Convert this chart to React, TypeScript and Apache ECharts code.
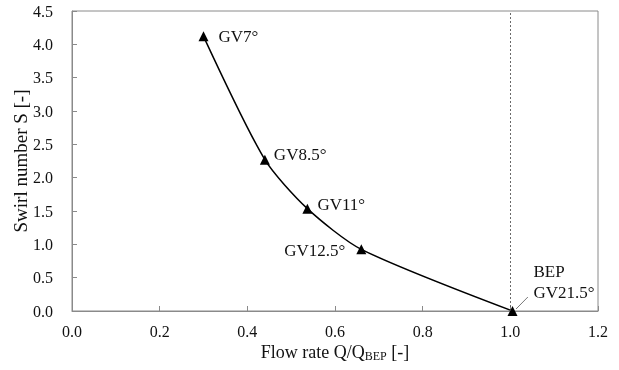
import React, { useEffect, useRef } from "react";
import * as echarts from "echarts";

const flowRate = [0.3, 0.44, 0.537, 0.66, 1.005];
const swirl = [4.12, 2.27, 1.535, 0.925, 0.0];
const pointLabels = ["GV7°", "GV8.5°", "GV11°", "GV12.5°", "BEP\nGV21.5°"];
const xTicks = { min: 0, max: 1.2, interval: 0.2 };
const yTicks = { min: 0, max: 4.5, interval: 0.5 };
const bepLine = 1.005;

const FONT = "Liberation Serif";

const labelLayouts: any[] = [
  { position: "right", distance: 5, offset: [5, 0] },
  { position: "right", distance: 4, offset: [0, -5] },
  { position: "right", distance: 4, offset: [1, -4] },
  { position: "left", distance: 6, offset: [-5, 1] },
  { position: "right", distance: 5, offset: [11, -29], lineHeight: 21 },
];

export default function App() {
  const ref = useRef<HTMLDivElement>(null);
  useEffect(() => {
    if (!ref.current) return;
    const chart = echarts.init(ref.current, null, { renderer: "svg" });
    const data = flowRate.map((x, i) => ({
      value: [x, swirl[i]],
      label: {
        show: true,
        formatter: pointLabels[i],
        fontFamily: FONT,
        fontSize: 17,
        color: "#111",
        ...labelLayouts[i],
      },
    }));
    chart.setOption({
      animation: false,
      textStyle: { fontFamily: FONT },
      grid: {
        left: 72,
        right: 21,
        top: 11,
        bottom: 59,
        containLabel: false,
        outerBoundsMode: "none",
        show: true,
        borderColor: "#8a8a8a",
        borderWidth: 1,
      },
      xAxis: {
        type: "value",
        min: xTicks.min,
        max: xTicks.max,
        interval: xTicks.interval,
        name: "Flow rate Q/Q{sub|BEP} [-]",
        nameLocation: "middle",
        nameGap: 30,
        nameMoveOverlap: false,
        nameTextStyle: {
          fontFamily: FONT,
          fontSize: 18,
          color: "#111",
          lineHeight: 21,
          rich: {
            sub: { fontFamily: FONT, fontSize: 12, color: "#111", verticalAlign: "bottom", lineHeight: 14, padding: [5, 0, 0, 0] },
          },
        },
        axisLine: { lineStyle: { color: "#8a8a8a" } },
        axisTick: { inside: true, length: 5, lineStyle: { color: "#8a8a8a" } },
        splitLine: { show: false },
        axisLabel: {
          formatter: (v: number) => v.toFixed(1),
          fontFamily: FONT,
          fontSize: 16,
          color: "#111",
          margin: 12,
        },
      },
      yAxis: {
        type: "value",
        min: yTicks.min,
        max: yTicks.max,
        interval: yTicks.interval,
        name: "Swirl number S [-]",
        nameLocation: "middle",
        nameGap: 42,
        nameMoveOverlap: false,
        nameTextStyle: { fontFamily: FONT, fontSize: 19, color: "#111" },
        axisLine: { lineStyle: { color: "#8a8a8a" } },
        axisTick: { inside: true, length: 5, lineStyle: { color: "#8a8a8a" } },
        splitLine: { show: false },
        axisLabel: {
          formatter: (v: number) => v.toFixed(1),
          fontFamily: FONT,
          fontSize: 16,
          color: "#111",
          margin: 19,
        },
      },
      series: [
        {
          type: "line",
          data,
          smooth: 0.25,
          symbol: "triangle",
          symbolSize: 10,
          itemStyle: { color: "#000" },
          lineStyle: { color: "#000", width: 1.5 },
          markLine: {
            silent: true,
            symbol: "none",
            label: { show: false },
            data: [
              { xAxis: bepLine, lineStyle: { color: "#444", width: 0.8, type: [2, 2] } },
              [
                { coord: [1.013, 0.03], lineStyle: { color: "#555", width: 0.8, type: "solid" } },
                { coord: [1.04, 0.21] },
              ],
            ],
          },
        },
      ],
    });
    return () => chart.dispose();
  }, []);
  return (
    <div
      ref={ref}
      style={{ position: "fixed", left: 0, top: 0, width: 619, height: 370 }}
    />
  );
}
